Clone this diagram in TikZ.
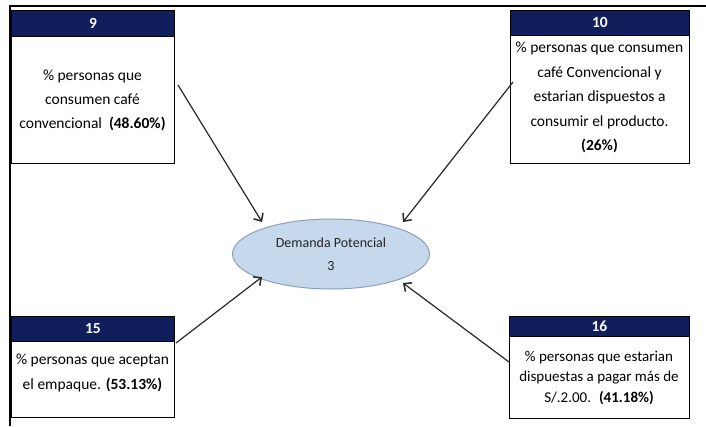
\documentclass[tikz,border=0pt]{standalone}
\usepackage{fontspec}
\setmainfont{Carlito}
\usetikzlibrary{shapes.geometric,arrows.meta}
\definecolor{hdrblue}{RGB}{16,30,92}
\definecolor{ellfill}{RGB}{198,216,236}
\definecolor{elldraw}{RGB}{140,160,185}
\definecolor{arrowgray}{RGB}{40,40,40}
\tikzset{
  hdr/.style={draw=black, line width=0.9pt, fill=hdrblue, text=white, font=\fontsize{15.5}{17}\selectfont\bfseries, inner sep=0pt, anchor=north west},
  bodybox/.style={draw=black, line width=1pt, fill=white, inner sep=0pt, anchor=north west},
  bodytext/.style={align=center, inner sep=0pt, text=black},
  conn/.style={draw=arrowgray, line width=1.2pt, -{Straight Barb[length=6pt,width=11pt,line width=1.5pt]}},
  frame/.style={draw=black, line width=1.3pt}
}
\begin{document}
\begin{tikzpicture}[x=1pt,y=-1pt]
\useasboundingbox (0,0) rectangle (706,426);
% frame
\coordinate (ftl) at (10,6);
\coordinate (ftr) at (706,6);
\coordinate (fbl) at (10,426);
\draw[frame] (ftr) -- (ftl) -- (fbl);

% box 9
\node[bodybox, minimum width=163pt, minimum height=127pt] (b9) at (11,36) {};
\node[hdr, minimum width=163pt, minimum height=26pt] (h9) at (11,10) {9};
\node[bodytext, font=\fontsize{15.5}{24}\selectfont] (t9) at (92.5,100) {\% personas que\\consumen café\\convencional \ \textbf{(48.60\%)}};

% box 10
\node[bodybox, minimum width=179pt, minimum height=128pt] (b10) at (510,35) {};
\node[hdr, minimum width=179pt, minimum height=25pt] (h10) at (510,10) {10};
\node[bodytext, font=\fontsize{15.5}{24.5}\selectfont] (t10) at (599.5,97.5) {\% personas que consumen\\café Convencional y\\estarian dispuestos a\\consumir el producto.\\\textbf{(26\%)}};

% box 15
\node[bodybox, minimum width=163pt, minimum height=76pt] (b15) at (11,341) {};
\node[hdr, minimum width=163pt, minimum height=25pt] (h15) at (11,316) {15};
\node[bodytext, font=\fontsize{15.5}{25}\selectfont] (t15) at (92.5,372.5) {\% personas que aceptan\\el empaque. \textbf{(53.13\%)}};

% box 16
\node[bodybox, minimum width=180pt, minimum height=82pt] (b16) at (509,336) {};
\node[hdr, minimum width=180pt, minimum height=20pt] (h16) at (509,316) {16};
\node[bodytext, font=\fontsize{15}{20.5}\selectfont] (t16) at (599,377.5) {\% personas que estarian\\dispuestas a pagar más de\\S/.2.00. \ \textbf{(41.18\%)}};

% ellipse
\node[ellipse, draw=elldraw, line width=1pt, fill=ellfill, minimum width=197pt, minimum height=70pt, inner sep=0pt, align=center, font=\fontsize{14}{23}\selectfont, text=black!85] (dp) at (331,254) {Demanda Potencial\\3};

% arrow start/end points
\coordinate (s9) at (178,85);
\coordinate (e9) at (262,222);
\coordinate (s10) at (513,82);
\coordinate (e10) at (403,222);
\coordinate (s15) at (176,343);
\coordinate (e15) at (262,277);
\coordinate (s16) at (509,362);
\coordinate (e16) at (403,283);
\draw[conn] (s9) -- (e9);
\draw[conn] (s10) -- (e10);
\draw[conn] (s15) -- (e15);
\draw[conn] (s16) -- (e16);
\end{tikzpicture}
\end{document}
